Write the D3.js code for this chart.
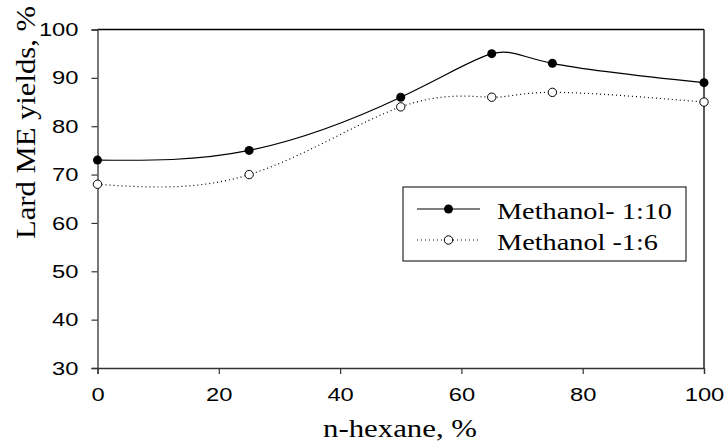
<!DOCTYPE html>
<html><head><meta charset="utf-8">
<script src="https://cdn.jsdelivr.net/npm/d3@7"></script>
<style>body{margin:0;background:#fff}svg{display:block}</style>
</head><body>
<svg id="c" width="725" height="444"></svg>
<script>
const hexane = [0, 25, 50, 65, 75, 100];
const meth10 = [73, 75, 86, 95, 93, 89];
const meth6 = [68, 70, 84, 86, 87, 85];
const xTicks = [0, 20, 40, 60, 80, 100];
const yTicks = [30, 40, 50, 60, 70, 80, 90, 100];
const seriesNames = ["Methanol- 1:10", "Methanol -1:6"];

const svg = d3.select("#c");
const x = d3.scaleLinear().domain([0, 100]).range([97.5, 704]);
const y = d3.scaleLinear().domain([30, 100]).range([368, 29.5]);
const serif = "Liberation Serif, Times New Roman, serif";
const sans = "Liberation Sans, Arial, sans-serif";

// frame
svg.append("line").attr("x1", x(0)).attr("x2", x(100)).attr("y1", y(100)).attr("y2", y(100)).attr("stroke", "#000").attr("stroke-width", 1.3);
svg.append("line").attr("x1", x(100)).attr("x2", x(100)).attr("y1", y(100)).attr("y2", y(30)).attr("stroke", "#000").attr("stroke-width", 1.3);

const xa = svg.append("g").attr("transform", `translate(0,${y(30)})`)
  .call(d3.axisBottom(x).tickValues(xTicks).tickSize(6).tickPadding(14).tickFormat(d3.format("d")));
const ya = svg.append("g").attr("transform", `translate(${x(0)},0)`)
  .call(d3.axisLeft(y).tickValues(yTicks).tickSize(6).tickPadding(13).tickFormat(d3.format("d")));
[xa, ya].forEach(g => {
  g.select(".domain").attr("stroke", "#333").attr("stroke-width", 1.3);
  g.selectAll(".tick line").attr("stroke", "#333").attr("stroke-width", 1.2);
  g.selectAll("text").attr("font-family", sans).attr("font-size", 19).attr("fill", "#000")
    .attr("textLength", function() { return this.textContent.length * 13.2; })
    .attr("lengthAdjust", "spacingAndGlyphs");
});

const line = d3.line().curve(d3.curveNatural).x(d => x(d[0])).y(d => y(d[1]));
const d10 = hexane.map((h, i) => [h, meth10[i]]);
const d6 = hexane.map((h, i) => [h, meth6[i]]);

svg.append("path").attr("d", line(d10)).attr("fill", "none").attr("stroke", "#000").attr("stroke-width", 1.2);
svg.append("path").attr("d", line(d6)).attr("fill", "none").attr("stroke", "#000").attr("stroke-width", 1.2).attr("stroke-dasharray", "1,3");

svg.selectAll(".p10").data(d10).enter().append("circle")
  .attr("cx", d => x(d[0])).attr("cy", d => y(d[1])).attr("r", 4.5).attr("fill", "#000");
svg.selectAll(".p6").data(d6).enter().append("circle")
  .attr("cx", d => x(d[0])).attr("cy", d => y(d[1])).attr("r", 4.2).attr("fill", "#fff").attr("stroke", "#000").attr("stroke-width", 1);

// legend
const lg = svg.append("g");
lg.append("rect").attr("x", 403).attr("y", 187).attr("width", 283).attr("height", 74).attr("fill", "#fff").attr("stroke", "#000").attr("stroke-width", 1);
const ly = [209, 240];
const lens = [175, 161];
lg.append("line").attr("x1", 417).attr("x2", 480).attr("y1", ly[0]).attr("y2", ly[0]).attr("stroke", "#000").attr("stroke-width", 1.2);
lg.append("circle").attr("cx", 448.5).attr("cy", ly[0]).attr("r", 4.5).attr("fill", "#000");
lg.append("line").attr("x1", 417).attr("x2", 480).attr("y1", ly[1]).attr("y2", ly[1]).attr("stroke", "#000").attr("stroke-width", 1.2).attr("stroke-dasharray", "1,3");
lg.append("circle").attr("cx", 448.5).attr("cy", ly[1]).attr("r", 4.2).attr("fill", "#fff").attr("stroke", "#000");
lg.selectAll("text").data(seriesNames).enter().append("text")
  .attr("x", 497).attr("y", (d, i) => ly[i] + 10)
  .attr("font-family", serif).attr("font-size", 24)
  .attr("textLength", (d, i) => lens[i]).attr("lengthAdjust", "spacingAndGlyphs").text(d => d);

// axis titles
svg.append("text").attr("x", 323).attr("y", 437)
  .attr("font-family", serif).attr("font-size", 26)
  .attr("textLength", 154).attr("lengthAdjust", "spacingAndGlyphs").text("n-hexane, %");
svg.append("text").attr("transform", `translate(35,239) rotate(-90)`)
  .attr("font-family", serif).attr("font-size", 28)
  .attr("textLength", 233).attr("lengthAdjust", "spacingAndGlyphs").text("Lard ME yields, %");
</script>
</body></html>
